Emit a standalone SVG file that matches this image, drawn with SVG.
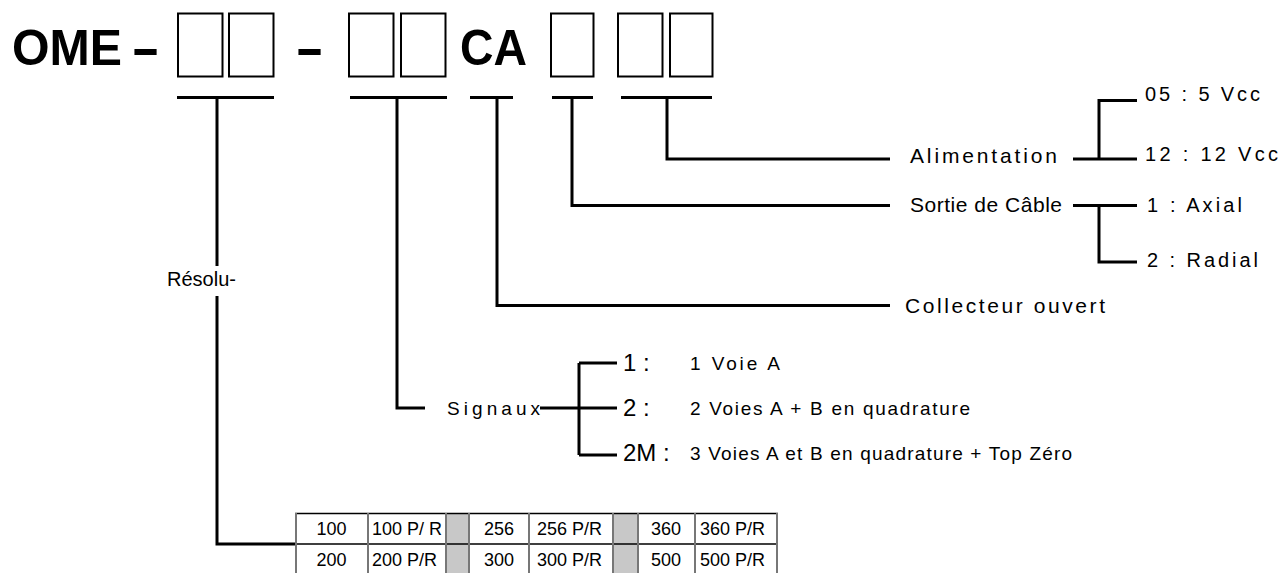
<svg xmlns="http://www.w3.org/2000/svg" width="1282" height="573" viewBox="0 0 1282 573">
<style>
text{font-family:"Liberation Sans",Arial,sans-serif;fill:#000}
.big{font-size:50px;font-weight:bold}
.lbl{font-size:21px}
.opt{font-size:20px}
.sig{font-size:24px}
.desc{font-size:19px}
.cell{font-size:18px}
.box{fill:#fff;stroke:#000;stroke-width:2}
.ln{fill:none;stroke:#000;stroke-width:3}
.tv{stroke:#777;stroke-width:2}
.th{stroke:#000;stroke-width:1.5}
</style>
<rect width="1282" height="573" fill="#fff"/>
<g id="code">
<text class="big" x="12" y="65" textLength="110" lengthAdjust="spacingAndGlyphs">OME</text>
<text class="big" x="0" y="65" transform="translate(131 0) scale(1.75 1)">-</text>
<text class="big" x="0" y="65" transform="translate(295 0) scale(1.75 1)">-</text>
<text class="big" x="460" y="65" textLength="67" lengthAdjust="spacingAndGlyphs">CA</text>
<rect class="box" x="178" y="13.5" width="44.5" height="63"/>
<rect class="box" x="229" y="13.5" width="44.5" height="63"/>
<rect class="box" x="349" y="13.5" width="44.5" height="63"/>
<rect class="box" x="401" y="13.5" width="44.5" height="63"/>
<rect class="box" x="551" y="13.5" width="42.5" height="63"/>
<rect class="box" x="618" y="13.5" width="44.5" height="63"/>
<rect class="box" x="670" y="13.5" width="42.5" height="63"/>
</g>
<g id="connectors" class="ln">
<path d="M177 97.5H274M217 97.5V544H295"/>
<path d="M350 97.5H447M397 97.5V408H425"/>
<path d="M470 97.5H513M497 97.5V305.5H890"/>
<path d="M552 97.5H593M572 97.5V205.5H890"/>
<path d="M621 97.5H712M667 97.5V159H890"/>
<path d="M1073 159H1137M1099 159V100.5H1137"/>
<path d="M1073 205.5H1137M1099 205.5V262H1137"/>
<path d="M540 408H617M579 363V455M579 363H617M579 455H617"/>
</g>
<g id="resolution">
<rect x="200" y="266" width="34" height="30" fill="#fff"/>
<text class="lbl" x="167" y="286" style="font-size:20px">Résolu-</text>
</g>
<g id="alimentation">
<text class="lbl" x="910" y="163" textLength="147">Alimentation</text>
<text class="opt" x="1145" y="101" textLength="115">05 : 5 Vcc</text>
<text class="opt" x="1145" y="161" textLength="133">12 : 12 Vcc</text>
</g>
<g id="sortie">
<text class="lbl" x="910" y="212" textLength="152">Sortie de Câble</text>
<text class="opt" x="1147" y="212" textLength="95">1 : Axial</text>
<text class="opt" x="1147" y="267" textLength="111">2 : Radial</text>
</g>
<g id="collecteur">
<text class="lbl" x="905" y="313" textLength="200">Collecteur ouvert</text>
</g>
<g id="signaux">
<text class="desc" x="447" y="415" textLength="93">Signaux</text>
<text class="sig" x="623" y="371">1 :</text>
<text class="sig" x="623" y="416">2 :</text>
<text class="sig" x="623" y="461">2M :</text>
<text class="desc" x="690" y="370" textLength="90">1 Voie  A</text>
<text class="desc" x="690" y="415" textLength="280">2 Voies  A + B  en quadrature</text>
<text class="desc" x="690" y="460" textLength="382">3 Voies  A et B en quadrature + Top Zéro</text>
</g>
<g id="table">
<rect x="446" y="513" width="23" height="62" fill="#c8c8c8"/>
<rect x="613" y="513" width="25" height="62" fill="#c8c8c8"/>
<path class="th" d="M295 513.5H778M295 544H778"/>
<path class="tv" d="M296 513V575M368 513V575M446 513V575M469 513V575M529 513V575M613 513V575M638 513V575M695 513V575M777 513V575"/>
<g class="cell">
<text x="331.5" y="535" text-anchor="middle">100</text>
<text x="372" y="535">100 P/ R</text>
<text x="499" y="535" text-anchor="middle">256</text>
<text x="537" y="535">256 P/R</text>
<text x="666" y="535" text-anchor="middle">360</text>
<text x="700" y="535">360 P/R</text>
<text x="331.5" y="566" text-anchor="middle">200</text>
<text x="372" y="566">200 P/R</text>
<text x="499" y="566" text-anchor="middle">300</text>
<text x="537" y="566">300 P/R</text>
<text x="666" y="566" text-anchor="middle">500</text>
<text x="700" y="566">500 P/R</text>
</g>
</g>
</svg>
